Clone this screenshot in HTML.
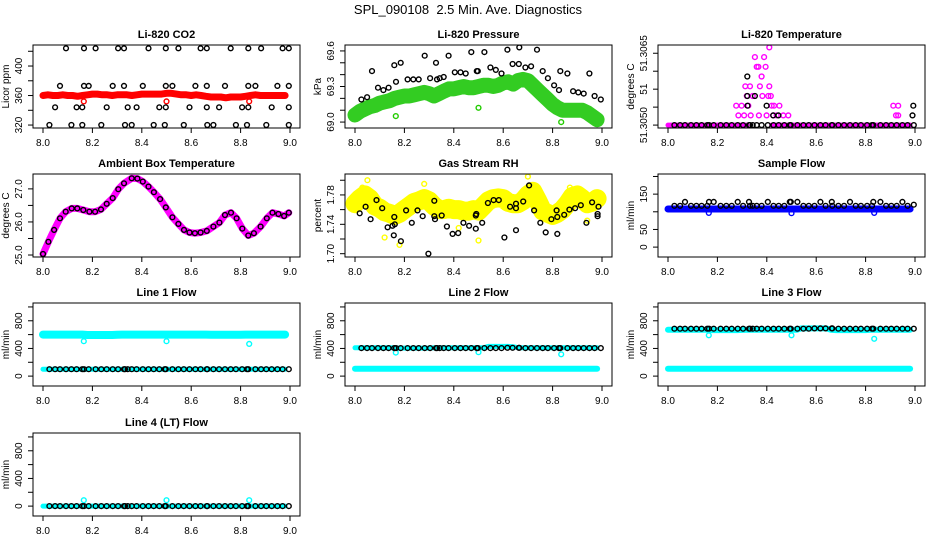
<!DOCTYPE html>
<html><head><meta charset="utf-8"><title>SPL_090108 Diagnostics</title>
<style>
html,body{margin:0;padding:0;background:#fff;}
svg{display:block;font-family:"Liberation Sans",Arial,sans-serif;}
</style></head>
<body>
<svg id="chart" width="936" height="540" viewBox="0 0 936 540">
<text x="468" y="14" text-anchor="middle" font-size="13" style="white-space:pre">SPL_090108&#160; 2.5 Min. Ave. Diagnostics</text>
</svg>
<script>
// ---- shared categories ----
const denseX = [8.00,8.02,8.04,8.06,8.08,8.10,8.12,8.14,8.16,8.18,8.20,8.22,8.24,8.26,8.28,8.30,8.32,8.34,8.36,8.38,8.40,8.42,8.44,8.46,8.48,8.50,8.52,8.54,8.56,8.58,8.60,8.62,8.64,8.66,8.68,8.70,8.72,8.74,8.76,8.78,8.80,8.82,8.84,8.86,8.88,8.90,8.92,8.94,8.96,8.98];
const blackX = [8.026,8.049,8.069,8.093,8.115,8.136,8.159,8.166,8.185,8.213,8.236,8.258,8.282,8.304,8.328,8.332,8.343,8.359,8.379,8.404,8.427,8.448,8.471,8.493,8.497,8.524,8.548,8.570,8.593,8.617,8.638,8.663,8.665,8.690,8.713,8.737,8.760,8.781,8.806,8.826,8.831,8.860,8.883,8.904,8.926,8.949,8.970,8.995];
const outlierX = [8.165,8.50,8.835];
const xTicks = [8.0,8.2,8.4,8.6,8.8,9.0];
const xTickLabels = ["8.0","8.2","8.4","8.6","8.8","9.0"];

// ---- CO2 ----
const co2Red = [360,361,360,360,361,360,360,359,360,361,362,362,361,361,360,361,361,361,360,361,362,362,362,362,362,363,363,362,361,361,360,361,360,359,358,358,358,357,358,358,358,359,360,361,360,360,360,360,360,360];
const co2RedOut = [352,352,352];
const co2Black = [320,344,373,424,320,344,344,424,373,424,320,344,373,424,424,320,344,320,344,373,424,320,344,320,424,373,424,320,344,373,424,424,320,320,344,373,424,320,344,320,424,373,424,320,344,373,424,424];
const co2ExtraX = [8.159,8.166,8.328,8.497,8.497,8.663,8.663,8.831,8.831,8.995,8.995,8.995];
const co2ExtraY = [320,373,373,373,344,373,344,373,344,373,344,320];

// ---- Pressure ----
const presGreen = [69.06,69.09,69.11,69.13,69.14,69.16,69.17,69.18,69.20,69.21,69.22,69.22,69.23,69.24,69.25,69.24,69.22,69.24,69.26,69.28,69.28,69.29,69.30,69.29,69.29,69.30,69.31,69.31,69.30,69.31,69.33,69.34,69.32,69.35,69.36,69.35,69.31,69.27,69.23,69.19,69.15,69.12,69.10,69.10,69.10,69.10,69.10,69.08,69.05,69.02];
const presGreenOut = [69.05,69.12,69.00];
const presBlack = [69.19,69.21,69.43,69.29,69.27,69.29,69.48,69.34,69.50,69.36,69.36,69.36,69.56,69.37,69.50,69.36,69.37,69.38,69.56,69.42,69.42,69.41,69.59,69.43,69.43,69.59,69.46,69.44,69.41,69.61,69.49,69.49,69.63,69.46,69.47,69.61,69.43,69.37,69.31,69.27,69.43,69.41,69.26,69.25,69.24,69.41,69.22,69.19];

// ---- Li-820 temperature ----
const tempBase = [51.3050,51.3050,51.3050,51.3050,51.3050,51.3050,51.3050,51.3050,51.3050,51.3050,51.3050,51.3050,51.3050,51.3050,51.3050,51.3050,51.3050,null,null,null,null,51.3050,51.3050,51.3050,51.3050,51.3050,51.3050,51.3050,51.3050,51.3050,51.3050,51.3050,51.3050,51.3050,51.3050,51.3050,51.3050,51.3050,51.3050,51.3050,51.3050,51.3050,51.3050,51.3050,51.3050,51.3050,51.3050,51.3050,51.3050,51.3050];
const tempMagX = [8.276,8.285,8.298,8.308,8.319,8.325,8.313,8.332,8.335,8.343,8.352,8.359,8.366,8.368,8.372,8.379,8.382,8.389,8.395,8.399,8.406,8.410,8.410,8.416,8.420,8.426,8.429,8.440,8.451,8.467,8.487,8.912,8.923,8.932,8.932];
const tempMagY = [51.3054,51.3052,51.3054,51.3052,51.3056,51.3054,51.3058,51.3058,51.3052,51.3056,51.3064,51.3062,51.3062,51.3052,51.3058,51.3060,51.3056,51.3064,51.3062,51.3052,51.3056,51.3066,51.3058,51.3056,51.3054,51.3052,51.3054,51.3052,51.3054,51.3052,51.3052,51.3054,51.3052,51.3054,51.3052];
const tempBlack = [51.3050,51.3050,51.3050,51.3050,51.3050,51.3050,51.3050,51.3050,51.3050,51.3050,51.3050,51.3050,51.3050,51.3050,51.3050,51.3050,51.3050,51.3050,51.3050,51.3050,51.3050,51.3050,51.3050,51.3050,51.3050,51.3050,51.3050,51.3050,51.3050,51.3050,51.3050,51.3050,51.3050,51.3050,51.3050,51.3050,51.3050,51.3050,51.3050,51.3050,51.3050,51.3050,51.3050,51.3050,51.3050,51.3050,51.3050,51.3050];
const tempExtraX = [8.321,8.322,8.321,8.352,8.399,8.426,8.447,8.993,8.990];
const tempExtraY = [51.3060,51.3054,51.3056,51.3056,51.3054,51.3052,51.3052,51.3054,51.3052];

// ---- Ambient box temperature ----
const ambX = [8.000,8.022,8.045,8.069,8.092,8.116,8.139,8.163,8.188,8.211,8.235,8.258,8.282,8.305,8.328,8.359,8.382,8.404,8.427,8.449,8.474,8.497,8.524,8.548,8.571,8.593,8.615,8.638,8.663,8.690,8.714,8.737,8.761,8.784,8.807,8.831,8.854,8.881,8.906,8.929,8.953,8.976,8.995];
const ambY = [25.03,25.40,25.76,26.11,26.31,26.41,26.41,26.36,26.31,26.31,26.38,26.55,26.72,26.99,27.17,27.32,27.31,27.22,27.07,26.90,26.69,26.44,26.14,25.94,25.76,25.68,25.66,25.68,25.73,25.86,25.98,26.21,26.28,26.11,25.80,25.59,25.66,25.86,26.11,26.28,26.24,26.18,26.28];

// ---- Gas stream RH ----
const rhYellow = [1.768,1.775,1.780,1.775,1.765,1.762,1.757,1.755,1.752,1.755,1.760,1.765,1.770,1.772,1.775,1.772,1.765,1.760,1.760,1.762,1.760,1.760,1.758,1.758,1.760,1.758,1.765,1.772,1.775,1.776,1.775,1.770,1.768,1.768,1.772,1.780,1.785,1.772,1.758,1.755,1.752,1.755,1.760,1.768,1.778,1.780,1.775,1.768,1.770,1.775];
const rhYellowOutX = [8.12,8.18,8.28,8.05,8.70,8.87,8.94,8.50,8.03,8.42];
const rhYellowOutY = [1.722,1.712,1.795,1.800,1.805,1.790,1.745,1.718,1.790,1.735];
const rhBlackX = [8.019,8.043,8.063,8.087,8.110,8.132,8.152,8.159,8.157,8.161,8.186,8.207,8.230,8.253,8.274,8.297,8.321,8.321,8.324,8.351,8.372,8.395,8.418,8.439,8.462,8.489,8.489,8.491,8.515,8.538,8.561,8.582,8.605,8.628,8.652,8.652,8.652,8.681,8.705,8.725,8.750,8.772,8.795,8.816,8.819,8.819,8.847,8.868,8.891,8.914,8.937,8.960,8.982,8.982,8.986];
const rhBlackY = [1.755,1.764,1.747,1.773,1.762,1.736,1.738,1.750,1.725,1.740,1.717,1.759,1.742,1.759,1.751,1.700,1.772,1.751,1.747,1.752,1.737,1.727,1.728,1.742,1.738,1.752,1.734,1.754,1.742,1.769,1.773,1.773,1.722,1.764,1.768,1.762,1.732,1.771,1.793,1.759,1.742,1.729,1.747,1.759,1.750,1.727,1.753,1.760,1.762,1.766,1.742,1.770,1.754,1.751,1.764];

// ---- Sample flow ----
const sampleBlue = [108,108,108,108,108,108,108,108,108,108,108,108,108,108,108,108,108,108,108,108,108,108,108,108,108,108,108,108,108,108,108,108,108,108,108,108,108,108,108,108,108,108,108,108,108,108,108,108,108,108];
const sampleBlueOut = [97,96,97];
const sampleBlack = [117,117,128,117,117,117,117,128,128,117,117,117,128,117,128,117,117,117,117,128,117,117,117,128,128,128,117,117,117,128,117,128,117,117,117,128,117,117,117,117,128,128,117,117,117,128,117,120];

// ---- Line flows ----
const line1CyanHi = [600,600,600,600,600,600,600,600,600,595,595,595,595,595,595,598,600,600,600,600,600,600,600,600,600,600,600,600,600,600,600,600,600,600,598,598,598,598,598,598,598,600,600,600,600,600,600,600,600,600];
const line1CyanLo = [100,100,100,100,100,100,100,100,100,100,100,100,100,100,100,100,100,100,100,100,100,100,100,100,100,100,100,100,100,100,100,100,100,100,100,100,100,100,100,100,100,100,100,100,100,100,100,100,100,100];
const line1CyanOut = [505,505,465];
const line1Black = [100,100,100,100,100,100,100,100,100,100,100,100,100,100,100,100,100,100,100,100,100,100,100,100,100,100,100,100,100,100,100,100,100,100,100,100,100,100,100,100,100,100,100,100,100,100,100,100];

const line2CyanHi = [410,410,410,410,410,410,410,410,410,405,405,405,405,405,405,405,410,410,410,410,410,410,410,410,410,410,410,430,430,430,430,430,425,410,410,410,410,410,410,410,410,410,410,410,410,410,410,410,410,410];
const line2CyanLo = [105,105,105,105,105,105,105,105,105,105,105,105,105,105,105,105,105,105,105,105,105,105,105,105,105,105,105,105,105,105,105,105,105,105,105,105,105,105,105,105,105,105,105,105,105,105,105,105,105,105];
const line2CyanOut = [340,345,315];
const line2Black = [405,405,405,405,405,405,405,405,405,405,405,405,405,405,405,405,405,405,405,405,405,405,405,405,405,405,405,405,405,410,410,410,410,405,405,405,405,405,405,405,405,405,405,405,405,405,405,405];

const line3CyanHi = [670,670,670,670,670,670,670,670,670,665,665,665,665,665,665,668,670,670,670,670,670,670,670,670,670,670,670,690,690,690,690,690,690,670,665,665,665,665,665,665,665,670,670,670,670,670,670,670,670,670];
const line3CyanLo = [105,105,105,105,105,105,105,105,105,105,105,105,105,105,105,105,105,105,105,105,105,105,105,105,105,105,105,105,105,105,105,105,105,105,105,105,105,105,105,105,105,105,105,105,105,105,105,105,105,105];
const line3CyanOut = [590,590,540];
const line3Black = [685,685,685,685,685,685,685,685,685,685,685,685,685,685,685,685,685,685,685,685,685,685,685,685,685,685,685,685,690,690,690,690,690,685,685,685,685,685,685,685,685,685,685,685,685,685,685,685];

const line4Cyan = [0,0,0,0,0,0,0,0,0,0,0,0,0,0,0,0,0,0,0,0,0,0,0,0,0,0,0,0,0,0,0,0,0,0,0,0,0,0,0,0,0,0,0,0,0,0,0,0,0,0];
const line4CyanOut = [85,85,85];
const line4Black = [0,0,0,0,0,0,0,0,0,0,0,0,0,0,0,0,0,0,0,0,0,0,0,0,0,0,0,0,0,0,0,0,0,0,0,0,0,0,0,0,0,0,0,0,0,0,0,0];

// ---- y axis ticks ----
const co2Ticks = [320,340,360,380,400,420];
const co2TickLabels = ["320","","360","","400",""];
const presTicks = [69.0,69.1,69.2,69.3,69.4,69.5,69.6];
const presTickLabels = ["69.0","","","69.3","","","69.6"];
const tempTicks = [51.3050,51.30537,51.30574,51.30611,51.30648];
const tempTickLabels = ["51.3050","","51","","51.3065"];
const ambTicks = [25.0,25.5,26.0,26.5,27.0];
const ambTickLabels = ["25.0","","26.0","","27.0"];
const rhTicks = [1.70,1.72,1.74,1.76,1.78,1.80];
const rhTickLabels = ["1.70","","1.74","","1.78",""];
const sampleTicks = [0,50,100,150,200];
const sampleTickLabels = ["0","50","","150",""];
const flowTicks = [0,200,400,600,800,1000];
const flowTickLabels = ["0","","400","","800",""];

// ---- drawing ----
const NS = "http://www.w3.org/2000/svg";
const svg = document.getElementById("chart");
const colLeft = [33,345,658];
const rowTop = [45,174,303,433];
const BW = 267, BH = 83;

function mk(tag, parent){ const e = document.createElementNS(NS, tag); parent.appendChild(e); return e; }

function panel(p){
  const L = colLeft[p.col], T = rowTop[p.row];
  const g = mk("g", svg);
  
  
  const sx = v => L + 10 + (v - 8) * 247;
  const sy = v => T + BH - (v - p.ymin) / (p.ymax - p.ymin) * BH;

  const t = mk("text", g);
  
  
  t.setAttribute("x", L + BW/2); t.setAttribute("y", T - 7);
  t.setAttribute("text-anchor","middle"); t.setAttribute("font-size","11"); t.setAttribute("font-weight","bold");
  t.textContent = p.title;

  const marks = mk("g", g);
  
  
  const clip = "clip" + p.col + p.row;
  const cp = mk("clipPath", g); cp.setAttribute("id", clip);
  const cr = mk("rect", cp); cr.setAttribute("x", L); cr.setAttribute("y", T); cr.setAttribute("width", BW); cr.setAttribute("height", BH);
  marks.setAttribute("clip-path", "url(#" + clip + ")");

  p.layers.forEach(ly => {
    if (ly.type === "band") {
      let seg = [];
      const flush = () => {
        if (!seg.length) return;
        const pl = mk("polyline", marks);
        
        
        pl.setAttribute("points", seg.join(" "));
        pl.setAttribute("fill","none"); pl.setAttribute("stroke", ly.color);
        pl.setAttribute("stroke-width", ly.w); pl.setAttribute("stroke-linejoin","round"); pl.setAttribute("stroke-linecap","round");
        seg = [];
      };
      for (let i = 0; i < ly.x.length && i < ly.y.length; i++) {
        if (ly.y[i] === null) { flush(); continue; }
        seg.push(sx(ly.x[i]).toFixed(1) + "," + sy(ly.y[i]).toFixed(1));
      }
      flush();
    } else {
      for (let i = 0; i < ly.x.length && i < ly.y.length; i++) {
        const c = mk("circle", marks);
        
        
        c.setAttribute("cx", sx(ly.x[i]).toFixed(1)); c.setAttribute("cy", sy(ly.y[i]).toFixed(1));
        c.setAttribute("r", 2.4); c.setAttribute("fill","none"); c.setAttribute("stroke", ly.color); c.setAttribute("stroke-width", 1.4);
      }
    }
  });

  const box = mk("rect", g);
  
  
  box.setAttribute("x", L); box.setAttribute("y", T); box.setAttribute("width", BW); box.setAttribute("height", BH);
  box.setAttribute("fill","none"); box.setAttribute("stroke","#000"); box.setAttribute("stroke-width","1");

  const xa = mk("g", g);
  
  
  xTicks.forEach((v,i) => {
    const X = sx(v);
    const ln = mk("line", xa);
    
    
    ln.setAttribute("x1", X); ln.setAttribute("x2", X); ln.setAttribute("y1", T+BH); ln.setAttribute("y2", T+BH+5); ln.setAttribute("stroke","#000");
    const tx = mk("text", xa);
    
    
    tx.setAttribute("x", X); tx.setAttribute("y", T+BH+18); tx.setAttribute("text-anchor","middle"); tx.setAttribute("font-size","10");
    tx.textContent = xTickLabels[i];
  });
  const ax = mk("line", xa);
  ax.setAttribute("x1", sx(8)); ax.setAttribute("x2", sx(9)); ax.setAttribute("y1", T+BH); ax.setAttribute("y2", T+BH); ax.setAttribute("stroke","#000");

  const ya = mk("g", g);
  
  
  p.ticks.forEach((v,i) => {
    const Y = sy(v);
    if (Y < T - 0.5 || Y > T + BH + 0.5) return;
    const ln = mk("line", ya);
    
    
    ln.setAttribute("x1", L); ln.setAttribute("x2", L-5); ln.setAttribute("y1", Y); ln.setAttribute("y2", Y); ln.setAttribute("stroke","#000");
    if (p.labels[i]) {
      const tx = mk("text", ya);
      
      
      tx.setAttribute("transform", "translate(" + (L-11) + "," + Y + ") rotate(-90)");
      tx.setAttribute("text-anchor","middle"); tx.setAttribute("font-size","10");
      tx.textContent = p.labels[i];
    }
  });
  const yl = mk("text", ya);
  
  
  yl.setAttribute("transform", "translate(" + (L-24) + "," + (T+BH/2) + ") rotate(-90)");
  yl.setAttribute("text-anchor","middle"); yl.setAttribute("font-size","10");
  yl.textContent = p.ylab;
}

const panels = [
 {name:"co2-panel", col:0,row:0,title:"Li-820 CO2",ylab:"Licor ppm",ymin:316,ymax:428.5,ticks:co2Ticks,labels:co2TickLabels,layers:[
   {type:"band",name:"co2-band",x:denseX,y:co2Red,color:"#ff0000",w:7},
   {type:"pts",name:"co2-outlier",x:outlierX,y:co2RedOut,color:"#ff0000"},
   {type:"pts",name:"co2-black-point",x:blackX,y:co2Black,color:"#000"},
   {type:"pts",name:"co2-black-point",x:co2ExtraX,y:co2ExtraY,color:"#000"}]},
 {name:"pressure-panel", col:1,row:0,title:"Li-820 Pressure",ylab:"kPa",ymin:68.95,ymax:69.65,ticks:presTicks,labels:presTickLabels,layers:[
   {type:"band",name:"pressure-band",x:denseX,y:presGreen,color:"#33cc22",w:15},
   {type:"pts",name:"pressure-outlier",x:outlierX,y:presGreenOut,color:"#22cc00"},
   {type:"pts",name:"pressure-black-point",x:blackX,y:presBlack,color:"#000"}]},
 {name:"li820-temperature-panel", col:2,row:0,title:"Li-820 Temperature",ylab:"degrees C",ymin:51.30494,ymax:51.30665,ticks:tempTicks,labels:tempTickLabels,layers:[
   {type:"band",name:"temperature-band",x:denseX,y:tempBase,color:"#ff00ff",w:5},
   {type:"pts",name:"temperature-point",x:tempMagX,y:tempMagY,color:"#ff00ff"},
   {type:"pts",name:"temperature-black-point",x:blackX,y:tempBlack,color:"#000"},
   {type:"pts",name:"temperature-black-point",x:tempExtraX,y:tempExtraY,color:"#000"}]},
 {name:"ambient-temperature-panel", col:0,row:1,title:"Ambient Box Temperature",ylab:"degrees C",ymin:24.94,ymax:27.45,ticks:ambTicks,labels:ambTickLabels,layers:[
   {type:"band",name:"ambient-band",x:ambX,y:ambY,color:"#ff00ff",w:7},
   {type:"pts",name:"ambient-black-point",x:ambX,y:ambY,color:"#000"}]},
 {name:"rh-panel", col:1,row:1,title:"Gas Stream RH",ylab:"percent",ymin:1.6955,ymax:1.8085,ticks:rhTicks,labels:rhTickLabels,layers:[
   {type:"band",name:"rh-band",x:denseX,y:rhYellow,color:"#ffff00",w:19},
   {type:"pts",name:"rh-outlier",x:rhYellowOutX,y:rhYellowOutY,color:"#ffff00"},
   {type:"pts",name:"rh-black-point",x:rhBlackX,y:rhBlackY,color:"#000"}]},
 {name:"sample-flow-panel", col:2,row:1,title:"Sample Flow",ylab:"ml/min",ymin:-28,ymax:207,ticks:sampleTicks,labels:sampleTickLabels,layers:[
   {type:"band",name:"sample-band",x:denseX,y:sampleBlue,color:"#0000ff",w:7},
   {type:"pts",name:"sample-outlier",x:outlierX,y:sampleBlueOut,color:"#0000ff"},
   {type:"pts",name:"sample-black-point",x:blackX,y:sampleBlack,color:"#000"}]},
 {name:"line1-flow-panel", col:0,row:2,title:"Line 1 Flow",ylab:"ml/min",ymin:-143,ymax:1057,ticks:flowTicks,labels:flowTickLabels,layers:[
   {type:"band",name:"line1-band",x:denseX,y:line1CyanHi,color:"#00ffff",w:8},
   {type:"band",name:"line1-low-band",x:denseX,y:line1CyanLo,color:"#00ffff",w:5},
   {type:"pts",name:"line1-outlier",x:outlierX,y:line1CyanOut,color:"#00ffff"},
   {type:"pts",name:"line1-black-point",x:blackX,y:line1Black,color:"#000"}]},
 {name:"line2-flow-panel", col:1,row:2,title:"Line 2 Flow",ylab:"ml/min",ymin:-143,ymax:1057,ticks:flowTicks,labels:flowTickLabels,layers:[
   {type:"band",name:"line2-high-band",x:denseX,y:line2CyanHi,color:"#00ffff",w:5},
   {type:"band",name:"line2-low-band",x:denseX,y:line2CyanLo,color:"#00ffff",w:6},
   {type:"pts",name:"line2-outlier",x:outlierX,y:line2CyanOut,color:"#00ffff"},
   {type:"pts",name:"line2-black-point",x:blackX,y:line2Black,color:"#000"}]},
 {name:"line3-flow-panel", col:2,row:2,title:"Line 3 Flow",ylab:"ml/min",ymin:-143,ymax:1057,ticks:flowTicks,labels:flowTickLabels,layers:[
   {type:"band",name:"line3-high-band",x:denseX,y:line3CyanHi,color:"#00ffff",w:6},
   {type:"band",name:"line3-low-band",x:denseX,y:line3CyanLo,color:"#00ffff",w:6},
   {type:"pts",name:"line3-outlier",x:outlierX,y:line3CyanOut,color:"#00ffff"},
   {type:"pts",name:"line3-black-point",x:blackX,y:line3Black,color:"#000"}]},
 {name:"line4-flow-panel", col:0,row:3,title:"Line 4 (LT) Flow",ylab:"ml/min",ymin:-143,ymax:1057,ticks:flowTicks,labels:flowTickLabels,layers:[
   {type:"band",name:"line4-band",x:denseX,y:line4Cyan,color:"#00ffff",w:5},
   {type:"pts",name:"line4-outlier",x:outlierX,y:line4CyanOut,color:"#00ffff"},
   {type:"pts",name:"line4-black-point",x:blackX,y:line4Black,color:"#000"}]}
];
panels.forEach(panel);
</script>
</body></html>
